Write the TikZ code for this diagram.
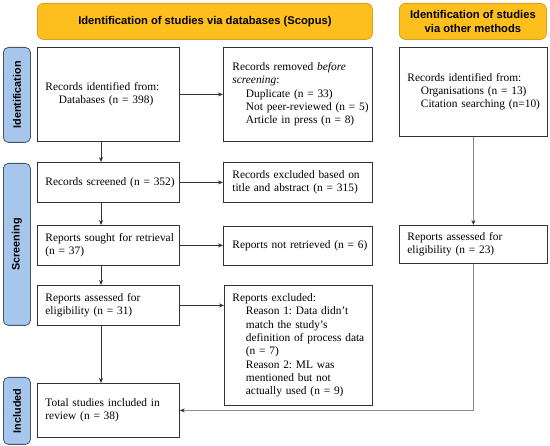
\documentclass[tikz,border=0pt]{standalone}
\usepackage{fontspec}
\setmainfont{Liberation Serif}
\setsansfont{Liberation Sans}
\usetikzlibrary{arrows.meta,calc}
\definecolor{banner}{HTML}{FCBF1E}
\definecolor{bannerline}{HTML}{D9A21A}
\definecolor{side}{HTML}{A7C6EB}
\definecolor{sideline}{HTML}{44556B}
\definecolor{boxline}{HTML}{333333}
\definecolor{greyline}{HTML}{8A8A8A}
\frenchspacing
\newcommand{\bodyfont}{\rmfamily\fontsize{11.4}{13.3}\selectfont\hyphenpenalty=10000\exhyphenpenalty=10000}
\newcommand{\ind}{\hspace*{13.5pt}}
\tikzset{
  lpad/.style={execute at begin node={\leftskip=#1}},
  bw/.style={text width=#1, minimum width=#1},
  box/.style={draw=boxline, line width=0.8pt, anchor=north west, inner xsep=0pt, inner ysep=0pt, align=left, font=\bodyfont, lpad=8pt},
  bannerbox/.style={draw=bannerline, fill=banner, line width=0.8pt, rounded corners=6pt, anchor=north west, inner sep=0pt, align=center, font=\sffamily\bfseries\fontsize{11.2}{13.5}\selectfont},
  sidebox/.style={draw=sideline, fill=side, line width=0.8pt, rounded corners=5pt, anchor=north west, inner sep=0pt},
  sidetext/.style={rotate=90, font=\sffamily\bfseries\fontsize{10.8}{12}\selectfont},
  arr/.style={draw=boxline, line width=0.7pt, -{Stealth[length=5pt,width=4pt]}},
  greyarr/.style={arr, draw=greyline, -{Stealth[length=5pt,width=4pt,color=boxline]}}
}
\begin{document}
\begin{tikzpicture}[x=1pt,y=-1pt]
\useasboundingbox (0,0) rectangle (550,446);
% banners
\node[bannerbox, minimum width=335pt, minimum height=36pt] (b1) at (37,3) {Identification of studies via databases (Scopus)};
\node[bannerbox, minimum width=147pt, minimum height=36pt] (b2) at (399,3) {Identification of studies\\via other methods};
% side labels
\node[sidebox, minimum width=27pt, minimum height=95pt] (sid) at (3,47) {};
\node[sidetext] (tid) at (sid.center) {Identification};
\node[sidebox, minimum width=27pt, minimum height=162pt] (sscr) at (3,163) {};
\node[sidetext] (tscr) at (sscr.center) {Screening};
\node[sidebox, minimum width=27pt, minimum height=67pt] (sinc) at (3,377) {};
\node[sidetext] (tinc) at (sinc.center) {Included};
% left column
\node[box, bw=142pt, minimum height=94pt] (id1) at (37,47)
  {Records identified from:\\\ind Databases (n = 398)};
\node[box, bw=142pt, minimum height=40pt] (scr) at (37,162)
  {Records screened (n = 352)};
\node[box, bw=142pt, minimum height=40pt] (sou) at (37,225)
  {Reports sought for retrieval\\(n = 37)};
\node[box, bw=142pt, minimum height=40pt] (ass) at (37,285)
  {Reports assessed for\\eligibility (n = 31)};
\node[box, bw=142pt, minimum height=54pt] (tot) at (37,383)
  {Total studies included in\\review (n = 38)};
% middle column
\node[box, lpad=9pt, bw=149pt, minimum height=94pt] (rem) at (223,47)
  {Records removed \textit{before}\\\textit{screening}:\\\ind Duplicate (n = 33)\\\ind Not peer-reviewed (n = 5)\\\ind Article in press (n = 8)};
\node[box, lpad=9pt, bw=149pt, minimum height=40pt] (exc) at (223,162)
  {Records excluded based on\\title and abstract (n = 315)};
\node[box, lpad=9pt, bw=149pt, minimum height=39pt] (nr) at (223,226)
  {Reports not retrieved (n = 6)};
\node[box, bw=148pt, minimum height=120pt] (rex) at (224,285)
  {Reports excluded:\\\ind Reason 1: Data didn’t\\\ind match the study’s\\\ind definition of process data\\\ind (n = 7)\\\ind Reason 2: ML was\\\ind mentioned but not\\\ind actually used (n = 9)};
% right column
\node[box, bw=148pt, minimum height=89pt] (oth) at (399,47)
  {Records identified from:\\\ind Organisations (n = 13)\\\ind Citation searching (n=10)};
\node[box, bw=148pt, minimum height=38pt] (ass2) at (399,225)
  {Reports assessed for\\eligibility (n = 23)};
% connectors
\coordinate (vx) at (101,0);
\draw[arr] (id1.east) -- (rem.west);
\draw[arr] (scr.east) -- (exc.west);
\draw[arr] (sou.east) -- (sou.east -| nr.west);
\draw[arr] (ass.east) -- (ass.east -| rex.west);
\draw[arr] (id1.south -| vx) -- (scr.north -| vx);
\draw[arr] (scr.south -| vx) -- (sou.north -| vx);
\draw[arr] (sou.south -| vx) -- (ass.north -| vx);
\draw[arr] (ass.south -| vx) -- (tot.north -| vx);
\draw[greyarr] (oth.south) -- (ass2.north);
\draw[greyarr] (ass2.south) |- (tot.east);
\end{tikzpicture}
\end{document}
